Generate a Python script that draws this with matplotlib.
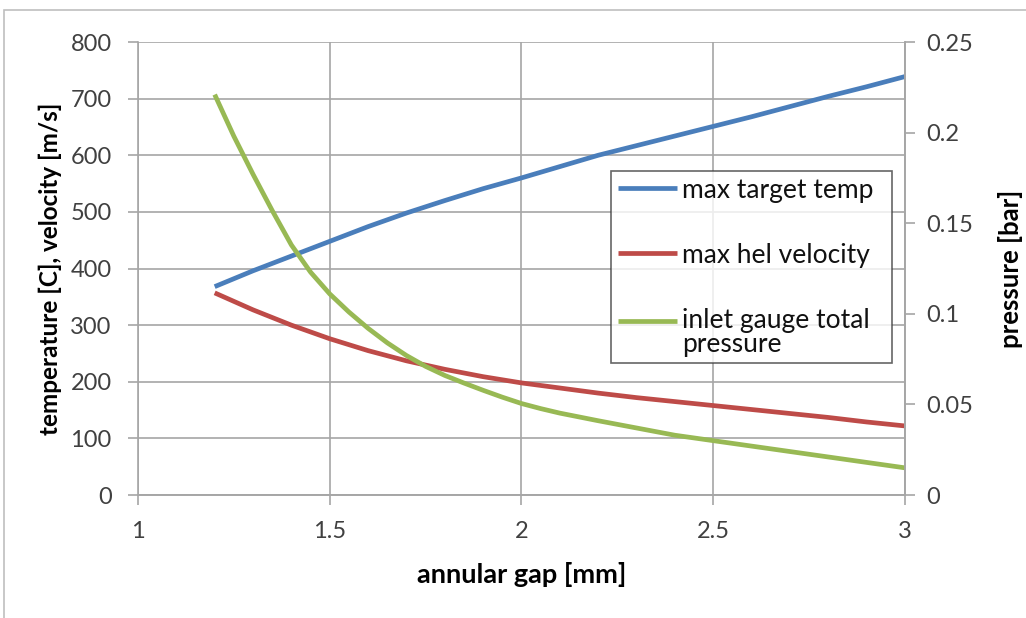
import matplotlib
matplotlib.use("Agg")
import matplotlib.pyplot as plt
from matplotlib.patches import Rectangle

plt.rcParams['font.family'] = ['Lato', 'DejaVu Sans']

# annular gap [mm]
gap = [1.2, 1.3, 1.4, 1.5, 1.6, 1.7, 1.8, 1.9, 2.0, 2.1, 2.2, 2.3, 2.4,
       2.5, 2.6, 2.7, 2.8, 2.9, 3.0]
# max target temperature [C]
target_temp = [368, 396, 422, 448, 474, 498, 520, 541, 560, 580, 600, 617,
               634, 651, 668, 686, 704, 721, 739]
# max helium velocity [m/s]
hel_velocity = [357, 327, 300, 276, 255, 237, 222, 209, 198, 189, 180, 172,
                165, 158, 151, 144, 137, 129, 122]

# inlet gauge total pressure [bar], sampled more finely where it falls steeply
gap_p = [1.2, 1.25, 1.3, 1.35, 1.4, 1.45, 1.5, 1.55, 1.6, 1.65, 1.7, 1.75,
         1.8, 1.85, 1.9, 1.95, 2.0, 2.05, 2.1, 2.2, 2.3, 2.4, 2.5, 2.6, 2.7,
         2.8, 2.9, 3.0]
inlet_pressure = [0.221, 0.198, 0.177, 0.157, 0.138, 0.123, 0.111, 0.101,
                  0.092, 0.084, 0.077, 0.071, 0.066, 0.0618, 0.0578, 0.054,
                  0.0505, 0.0477, 0.0452, 0.041, 0.037, 0.033, 0.030, 0.027,
                  0.024, 0.021, 0.018, 0.015]

x_ticks = [1, 1.5, 2, 2.5, 3]
x_tick_labels = ['1', '1.5', '2', '2.5', '3']
left_ticks = [0, 100, 200, 300, 400, 500, 600, 700, 800]
right_ticks = [0, 0.05, 0.1, 0.15, 0.2, 0.25]
right_tick_labels = ['0', '0.05', '0.1', '0.15', '0.2', '0.25']

BLUE = '#4A7EBB'
RED = '#BE4B48'
GREEN = '#98B954'
GRID = '#A6A6A6'
TEXT = '#404040'

fig = plt.figure(figsize=(10.26, 6.18), dpi=100)
fig.patch.set_facecolor('white')
fig.patches.append(Rectangle((4 / 1026, -0.1), 1.2, 1.1 - 10 / 618,
                             transform=fig.transFigure, fill=False,
                             edgecolor='#BFBFBF', linewidth=1.2))

ax = fig.add_axes([0.1345, 0.199, 0.7475, 0.733])
ax2 = ax.twinx()

ax.set_xlim(1, 3)
ax.set_ylim(0, 800)
ax2.set_ylim(0, 0.25)

ax.set_xticks(x_ticks)
ax.set_xticklabels(x_tick_labels)
ax.set_yticks(left_ticks)
ax2.set_yticks(right_ticks)
ax2.set_yticklabels(right_tick_labels)

ax.grid(True, color=GRID, linewidth=1.2)
ax.set_axisbelow(True)

for a in (ax, ax2):
    for s in a.spines.values():
        s.set_color(GRID)
        s.set_linewidth(1.2)
    a.spines['top'].set_visible(False)
ax2.spines['left'].set_visible(False)

ax.tick_params(axis='both', colors=GRID, labelcolor=TEXT, labelsize=17,
               length=7, width=1.2, direction='out')
ax.tick_params(axis='x', pad=12)
ax.tick_params(axis='y', pad=12)
ax2.tick_params(axis='y', colors=GRID, labelcolor=TEXT, labelsize=17,
                length=7, width=1.2, direction='out', pad=8)

l1, = ax.plot(gap, target_temp, color=BLUE, linewidth=3.4,
              solid_capstyle='butt', label='max target temp')
l2, = ax.plot(gap, hel_velocity, color=RED, linewidth=3.4,
              solid_capstyle='butt', label='max hel velocity')
l3, = ax2.plot(gap_p, inlet_pressure, color=GREEN, linewidth=3.4,
               solid_capstyle='butt', label='inlet gauge total\npressure')

ax.set_xlabel('annular gap [mm]', fontsize=19.5, fontweight='bold',
              color='black', labelpad=14)
ax.set_ylabel('temperature [C], velocity [m/s]', fontsize=17.5,
              fontweight='bold', color='black', labelpad=6)
ax2.set_ylabel('pressure [bar]', fontsize=18.5, fontweight='bold',
               color='black', labelpad=18)

leg = ax2.legend(handles=[l1, l2, l3], loc='upper left',
                 bbox_to_anchor=(611 / 1026, 1 - 368 / 618, 281 / 1026,
                                 197 / 618),
                 bbox_transform=fig.transFigure, mode='expand',
                 fontsize=19, frameon=True, fancybox=False,
                 handlelength=2.25, handletextpad=0.2, labelspacing=1.52,
                 borderpad=0.25, borderaxespad=0)
leg.get_frame().set_edgecolor('#404040')
leg.get_frame().set_linewidth(1.2)
for t in leg.get_texts():
    t.set_color('#111111')
    t.set_linespacing(0.95)

# align the green legend sample with the first line of its two-line label
fig.canvas.draw()
h = leg.legend_handles[2]
h.set_ydata([v + 9 for v in h.get_ydata()])

fig.savefig('out.png', dpi=100, facecolor='white')
